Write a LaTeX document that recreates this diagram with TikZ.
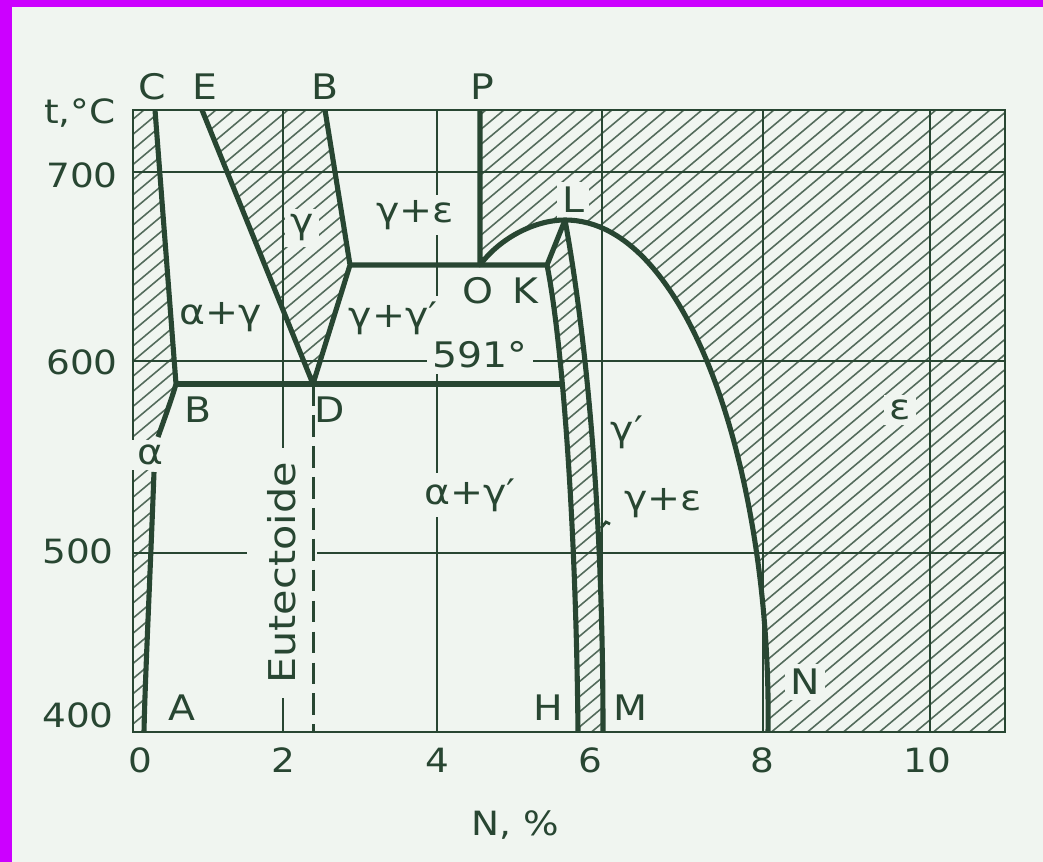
\documentclass[tikz,border=0pt]{standalone}
\usepackage{fontspec}
\setmainfont[FakeStretch=1.12]{DejaVu Sans}
\usetikzlibrary{positioning}
\definecolor{ink}{RGB}{40,70,50}
\definecolor{paper}{RGB}{240,245,240}
\definecolor{edge}{RGB}{204,0,255}

\begin{document}
\begin{tikzpicture}[
        x=0.01cm, y=-0.01cm,
        phase/.style={ink, line width=1.45pt, line join=round},
        gridline/.style={ink, line width=0.6pt},
        hatch/.style={ink!80, line width=0.45pt},
        lbl/.style={text=ink, fill=paper, inner sep=1.5pt, font=\fontsize{10}{12}\selectfont},
        num/.style={text=ink, inner sep=1pt, font=\fontsize{9.5}{11}\selectfont}
    ]
    \useasboundingbox (0,0) rectangle (1043,862);
    \fill[paper] (0,0) rectangle (1043,862);
    \fill[edge] (0,0) rectangle (12,862);
    \fill[edge] (0,0) rectangle (1043,7);

    % points of the diagram
    \coordinate (C) at (155,110);
    \coordinate (E) at (202,110);
    \coordinate (Btop) at (325,110);
    \coordinate (P) at (480,110);
    \coordinate (G) at (350,265);
    \coordinate (O) at (480,265);
    \coordinate (K) at (547,265);
    \coordinate (L) at (565,220);
    \coordinate (B) at (176,384);
    \coordinate (D) at (313,384);
    \coordinate (T) at (562,384);
    \coordinate (A) at (144,732);
    \coordinate (H) at (578,732);
    \coordinate (M) at (603,732);
    \coordinate (N) at (768,732);

    % hatched fields
    \begin{scope}
        \clip (133,110) -- (C) -- (B) .. controls (172,398) and (164,420) .. (158,437) -- (154,472) .. controls (150,580) and (145,680) .. (A) -- (133,732) -- cycle
              (E) -- (Btop) -- (G) -- (D) -- cycle
              (L) -- (K) .. controls (562,340) and (576,520) .. (H) -- (M) .. controls (603,500) and (585,330) .. (L) -- cycle
              (P) -- (1005,110) -- (1005,732) -- (N) .. controls (772,480) and (690,220) .. (L) .. controls (535,220) and (500,238) .. (O) -- cycle;
        \foreach \k in {-40,...,58}
            \draw[hatch] (\k*18,745) -- ++(900,-756);
    \end{scope}

    % grid
    \foreach \gx in {283,437,602,763,930}
        \draw[gridline] (\gx,110) -- (\gx,732);
    \foreach \gy in {172,361,553}
        \draw[gridline] (133,\gy) -- (1005,\gy);
    \draw[gridline, line width=0.8pt] (133,110) rectangle (1005,732);

    % axes
    \node[num] at (80,113) {t,°C};
    \node[num] at (82,175) {700};
    \node[num] at (82,362) {600};
    \node[num] at (78,551) {500};
    \node[num] at (78,715) {400};
    \node[num] at (140,760) {0};
    \node[num] at (283,760) {2};
    \node[num] at (437,760) {4};
    \node[num] at (590,760) {6};
    \node[num] at (762,760) {8};
    \node[num] at (927,760) {10};
    \node[num] at (515,825) {N, \%};

    % point names
    \node[lbl] at (152,87) {C};
    \node[lbl] at (205,87) {E};
    \node[lbl] at (325,87) {B};
    \node[lbl] at (482,87) {P};
    \node[lbl] at (573,200) {L};
    \node[lbl] at (478,291) {O};
    \node[lbl] at (525,291) {K};
    \node[lbl] at (198,410) {B};
    \node[lbl] at (330,410) {D};
    \node[lbl] at (182,708) {A};
    \node[lbl] at (548,708) {H};
    \node[lbl] at (630,708) {M};
    \node[lbl] at (805,682) {N};
    \node[lbl] at (480,355) {591°};

    % phases
    \node[lbl] at (150,455) {α};
    \node[lbl] at (221,317) {α+γ};
    \node[lbl] at (302,228) {γ};
    \node[lbl] at (415,215) {γ+ε};
    \node[lbl] at (393,318) {γ+γ′};
    \node[lbl] at (470,495) {α+γ′};
    \node[lbl] at (627,432) {γ′};
    \node[lbl] at (663,503) {γ+ε};
    \node[lbl] at (900,410) {ε};
    \node[lbl, rotate=90, inner xsep=4pt, inner ysep=6pt, font=\fontsize{10.5}{12}\selectfont] at (282,573) {Eutectoide};

    % phase boundaries
    \draw[phase] (C) -- (B) .. controls (172,398) and (164,420) .. (158,437);
    \draw[phase] (154,472) .. controls (150,580) and (145,680) .. (A);
    \draw[phase] (E) -- (D) -- (G) -- (Btop);
    \draw[phase] (B) -- (T);
    \draw[phase] (G) -- (K) -- (L);
    \draw[phase] (P) -- (O) .. controls (500,238) and (535,220) .. (L) .. controls (690,220) and (772,480) .. (N);
    \draw[phase] (K) .. controls (562,340) and (576,520) .. (H);
    \draw[phase] (L) .. controls (585,330) and (603,500) .. (M);
    \draw[ink, line width=0.85pt, dash pattern=on 6.2pt off 2.6pt] (D) -- (313,732);
    \draw[ink, line width=0.8pt] (601,528) -- (606,522) -- (610,524);
\end{tikzpicture}
\end{document}
